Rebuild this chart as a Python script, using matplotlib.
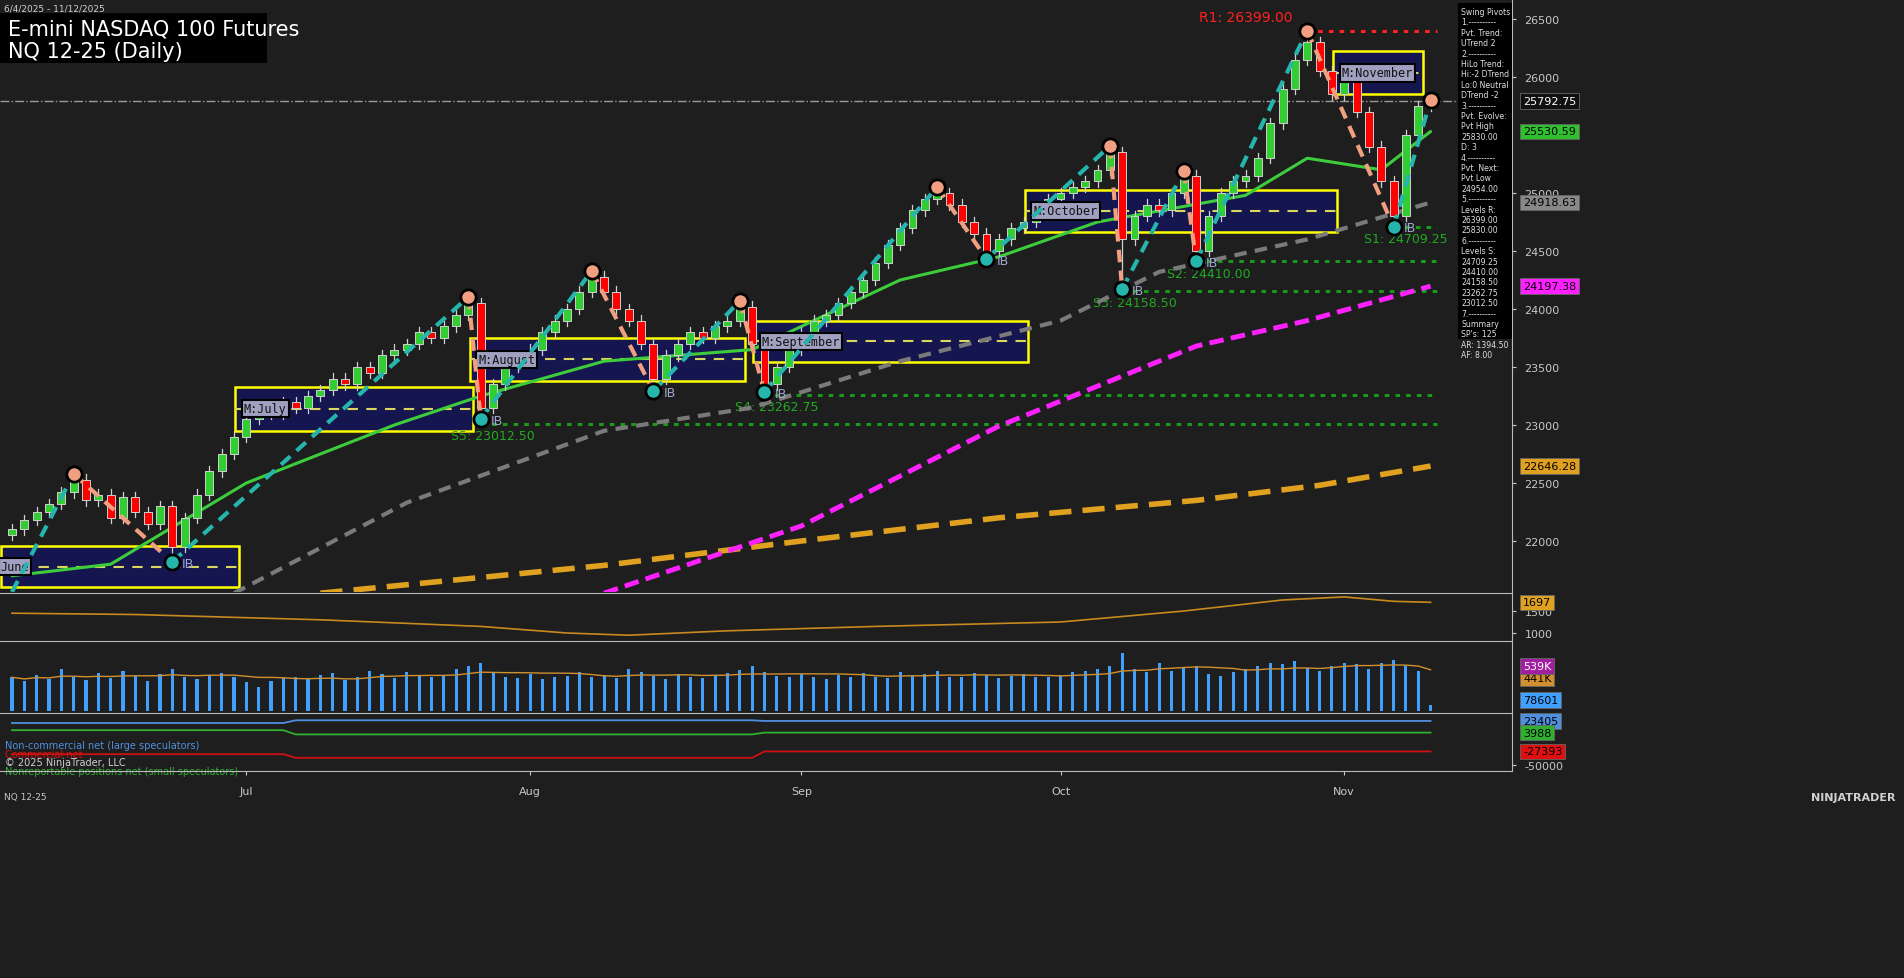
import matplotlib
matplotlib.use("Agg")
import matplotlib.pyplot as plt
from matplotlib.patches import Rectangle
import numpy as np
import pandas as pd

W, H = 1904, 979
BG = "#1e1e1e"

dates = pd.bdate_range("2025-06-04", "2025-11-12")
closes = [22100, 22180, 22250, 22320, 22420, 22530,
          22350, 22400, 22200, 22380, 22250, 22150, 22300, 21950,
          22200, 22400, 22600, 22750, 22900, 23050,
          23150, 23100, 23200, 23150, 23250, 23300, 23400, 23350, 23500, 23450,
          23600, 23650, 23700, 23800, 23750, 23850, 23950, 24050,
          23150,
          23350, 23500, 23600, 23650, 23800, 23900, 24000, 24150, 24280,
          24150, 24000, 23900, 23700, 23400,
          23600, 23700, 23800, 23750, 23850, 23900, 24020,
          23700, 23350,
          23500, 23650, 23800, 23900, 23950, 24050, 24150, 24250, 24400, 24550, 24700, 24850, 24950, 25000,
          24900, 24750, 24650, 24500,
          24600, 24700, 24750, 24850, 24950, 25000, 25050, 25100, 25200, 25350,
          24600,
          24800, 24900, 24850, 25000, 25150,
          24500,
          24800, 25000, 25100, 25150, 25300, 25600, 25900, 26150, 26300,
          26050, 25850, 26000, 25700, 25400, 25100, 24800,
          25500, 25750, 25793]
first_open = 22050
pivot_highs = {5: 22578, 37: 24104, 47: 24328, 59: 24069, 75: 25052, 89: 25405, 95: 25190, 105: 26399}
pivot_lows = {13: 21820, 38: 23052, 52: 23293, 61: 23285, 79: 24431, 90: 24172, 96: 24414, 112: 24709}

ma_green = [(0, 21700), (8, 21800), (19, 22500), (31, 23000), (38, 23250), (48, 23550), (60, 23650),
            (72, 24250), (80, 24450), (88, 24750), (100, 24980), (105, 25300), (111, 25200), (115, 25530)]
ma_gray = [(18, 21550), (32, 22330), (48, 22950), (60, 23150), (72, 23550), (85, 23900), (93, 24320),
           (105, 24600), (115, 24918)]
ma_mag = [(48, 21550), (64, 22130), (80, 22990), (96, 23680), (105, 23900), (115, 24197)]
ma_orange = [(25, 21550), (48, 21790), (64, 22000), (80, 22200), (96, 22350), (106, 22480), (115, 22646)]

levels_s = [(112, 24709.25), (96, 24410.0), (90, 24158.5), (61, 23262.75), (38, 23012.5)]
level_r = (105, 26399.0)
last_price = 25792.75
price_ticks = [22000, 22500, 23000, 23500, 24000, 24500, 25000, 26000, 26500]

months = [("June", 0, 18, 21600, 21960), ("M:July", 19, 37, 22950, 23330), ("M:August", 38, 59, 23380, 23750),
          ("M:September", 61, 82, 23540, 23900), ("M:October", 83, 107, 24660, 25030),
          ("M:November", 108, 114, 25850, 26220)]

atr_anchor = [(0, 1450), (10, 1420), (25, 1300), (38, 1150), (45, 1000), (50, 950), (58, 1050), (70, 1150),
              (85, 1250), (95, 1500), (103, 1750), (108, 1820), (112, 1720), (115, 1697)]
volume = [420, 380, 450, 400, 520, 430, 390, 470, 410, 500, 440, 380, 460, 520, 430, 400, 450, 470, 420, 360,
          300, 380, 410, 430, 400, 450, 470, 390, 420, 500, 460, 410, 480, 440, 420, 450, 520, 560, 600, 470,
          430, 410, 460, 400, 420, 440, 480, 430, 450, 410, 520, 480, 440, 400, 460, 430, 410, 450, 470, 510,
          560, 480, 440, 420, 460, 430, 400, 450, 420, 470, 430, 410, 480, 440, 460, 500, 420, 430, 470, 450,
          410, 440, 460, 420, 430, 450, 480, 500, 520, 560, 720, 520, 480, 600, 500, 540, 560, 460, 440, 480,
          520, 560, 600, 580, 620, 540, 500, 560, 600, 580, 520, 600, 640, 560, 500, 79]
cot_large = [(0, 20000), (22, 20000), (23, 24500), (60, 24500), (61, 23405), (115, 23405)]
cot_comm = [(0, -32000), (22, -32000), (23, -38000), (60, -38000), (61, -27393), (115, -27393)]
cot_small = [(0, 8000), (22, 8000), (23, 1000), (60, 1000), (61, 3988), (115, 3988)]
month_ticks = [("Jul", "2025-07-01"), ("Aug", "2025-08-01"), ("Sep", "2025-09-02"), ("Oct", "2025-10-01"), ("Nov", "2025-11-03")]

fig = plt.figure(figsize=(W / 100, H / 100), dpi=100, facecolor=BG)

def add_ax(x0, y0, x1, y1):
    a = fig.add_axes([x0 / W, 1 - y1 / H, (x1 - x0) / W, (y1 - y0) / H])
    a.set_facecolor(BG)
    for s in a.spines.values():
        s.set_visible(False)
    return a

n = len(closes)
XL = (-0.97, 121.6)
XR = 1512
ax = add_ax(0, 0, XR, 593)
ax.set_xlim(*XL)
PTOP, PBOT = 26500 + 20 * 500 / 58, 26500 - 573 * 500 / 58
ax.set_ylim(PBOT, PTOP)

def xy(anch):
    a = np.array(anch, dtype=float)
    return a[:, 0], a[:, 1]

for name, i0, i1, lo, hi in months:
    ax.add_patch(Rectangle((i0 - 0.9, lo), i1 - i0 + 1.3, hi - lo, facecolor="#15164f", edgecolor="#ffff00", lw=1.8, zorder=1))
    ax.plot([i0 - 0.9, i1 + 0.4], [(lo + hi) / 2] * 2, color="#d8d860", ls=(0, (5, 4)), lw=1.5, zorder=1.5)
    ax.text(i0 - 0.2 if i0 > 0 else -0.9, (lo + hi) / 2, name, color="#111111", fontsize=8.5, family="DejaVu Sans Mono",
            va="center", ha="left", zorder=6, bbox=dict(facecolor="#a0a0c0", edgecolor="black", lw=1.5, pad=1.5))

ax.axhline(last_price, color="#9a9a9a", ls="-.", lw=1, zorder=1)
ax.plot([level_r[0], 115.5], [level_r[1]] * 2, color="#ff2020", ls=(0, (1.5, 2)), lw=2.2, zorder=2)
ax.text(level_r[0] - 5, level_r[1] + 80, "R1: 26399.00", color="#ff2020", fontsize=10, ha="center")
snames = ["S1", "S2", "S3", "S4", "S5"]
for k, (i0, v) in enumerate(levels_s):
    ax.plot([i0, 115.5], [v, v], color="#1a9a1a", ls=(0, (1.5, 2)), lw=2.2, zorder=2)
    ax.text(i0 + 1, v - 130, f"{snames[k]}: {v:.2f}", color="#22aa22", fontsize=9, ha="center")

for anch, col, lw, ls in [(ma_orange, "#e0a020", 4, (0, (4, 2))), (ma_mag, "#ff20ff", 3.5, (0, (3, 1.5))),
                          (ma_gray, "#7a7a7a", 3, (0, (3, 2))), (ma_green, "#3ccc3c", 2.2, "-")]:
    x, y = xy(anch)
    ax.plot(x, y, color=col, lw=lw, ls=ls, zorder=3, solid_capstyle="round")

opens = [first_open] + closes[:-1]
for i in range(n):
    o, c = opens[i], closes[i]
    hi = pivot_highs.get(i, max(o, c) + 45)
    lo = pivot_lows.get(i, min(o, c) - 45)
    col = "#32cd32" if c >= o else "#ff0000"
    ax.plot([i, i], [lo, hi], color="#d0d0d0", lw=0.9, zorder=4)
    ax.add_patch(Rectangle((i - 0.32, min(o, c)), 0.64, max(abs(c - o), 8), facecolor=col, edgecolor="#d0d0d0", lw=0.7, zorder=5))

piv = sorted([(k, v, "H") for k, v in pivot_highs.items()] + [(k, v, "L") for k, v in pivot_lows.items()])
piv = [(0, 21560, "L")] + piv + [(115, 25800, "H")]
for (a, va, ta), (b, vb, tb) in zip(piv[:-1], piv[1:]):
    col = "#25b5ad" if ta == "L" else "#f0a080"
    ax.plot([a, b], [va, vb], color=col, lw=3, ls=(0, (3, 2)), zorder=6)
for k, v, t in piv[1:]:
    fc = "#f0a080" if t == "H" else "#25b5ad"
    ax.plot(k, v, "o", ms=11, mfc=fc, mec="black", mew=2, zorder=7)
    if t == "L":
        ax.text(k + 0.8, v - 10, "IB", color="#a0a8d0", fontsize=9, va="center", zorder=7)

ax.set_xticks([])
ax.yaxis.tick_right()
ax.set_yticks(price_ticks)
ax.tick_params(axis="y", colors="#c8c8c8", labelsize=8, length=3, pad=6)

def tag(a, v, txt, fc, tc="black"):
    a.annotate(txt, (1.0, v), xycoords=("axes fraction", "data"), xytext=(8, 0), textcoords="offset points",
               va="center", ha="left", fontsize=8, color=tc, annotation_clip=False,
               bbox=dict(boxstyle="square,pad=0.25", facecolor=fc, edgecolor="#666666", lw=0.6))

tag(ax, last_price, "25792.75", "#111111", "white")
tag(ax, 25530.59, "25530.59", "#2fbf2f")
tag(ax, 24918.63, "24918.63", "#888888")
tag(ax, 24197.38, "24197.38", "#ff20ff")
tag(ax, 22646.28, "22646.28", "#e0a020")

fig.text(4 / W, 1 - 9 / H, "6/4/2025 - 11/12/2025", color="#d0d0d0", fontsize=6.5, va="center")
fig.patches.append(Rectangle((0, 1 - 64 / H), 267 / W, 50 / H, transform=fig.transFigure, facecolor="black", edgecolor="none", zorder=5))
fig.text(8 / W, 1 - 29 / H, "E-mini NASDAQ 100 Futures", color="white", fontsize=15, va="center", zorder=6)
fig.text(8 / W, 1 - 52 / H, "NQ 12-25 (Daily)", color="white", fontsize=15, va="center", zorder=6)

info = ("Swing Pivots\n1.----------\nPvt. Trend:\nUTrend 2\n2.----------\nHiLo Trend:\nHi:-2 DTrend\nLo:0 Neutral\n"
        "DTrend -2\n3.----------\nPvt. Evolve:\nPvt High\n25830.00\nD: 3\n4.----------\nPvt. Next:\nPvt Low\n24954.00\n"
        "5.----------\nLevels R:\n26399.00\n25830.00\n6.----------\nLevels S:\n24709.25\n24410.00\n24158.50\n23262.75\n"
        "23012.50\n7.----------\nSummary\nSP's: 125\nAR: 1394.50\nAF: 8.00")
fig.patches.append(Rectangle((1458 / W, 1 - 340 / H), 54 / W, 336 / H, transform=fig.transFigure, facecolor="black", edgecolor="none", zorder=5))
fig.text(1461 / W, 1 - 8 / H, info, color="#e0e0e0", fontsize=5.6, va="top", linespacing=1.2, zorder=6)

a1 = add_ax(0, 595, XR, 640)
a1.set_xlim(*XL)
a1.set_ylim(864, 1886)
x, y = xy(atr_anchor)
a1.plot(x, y, color="#c88a20", lw=1.2)
a1.set_xticks([])
a1.yaxis.tick_right()
a1.set_yticks([1000, 1500])
a1.tick_params(axis="y", colors="#c8c8c8", labelsize=8, length=3, pad=6)
tag(a1, 1697, "1697", "#e0a020")

a2 = add_ax(0, 643, XR, 712)
a2.set_xlim(*XL)
a2.set_ylim(0, 860)
a2.bar(range(n), volume, width=0.25, color="#3fa0ff")
vma = pd.Series(volume).rolling(10, min_periods=1).mean()
a2.plot(range(n), vma, color="#d09030", lw=1)
a2.set_xticks([]); a2.set_yticks([])
tag(a2, 410, "441K", "#d09030")
tag(a2, 560, "539K", "#a020a0", "white")
tag(a2, 140, "78601", "#3fa0ff")

a3 = add_ax(0, 715, XR, 772)
a3.set_xlim(*XL)
a3.set_ylim(-60000, 35000)
for anch, col in [(cot_large, "#4f8fdf"), (cot_small, "#30b030"), (cot_comm, "#d01010")]:
    x, y = xy(anch)
    a3.plot(x, y, color=col, lw=1.3)
a3.yaxis.tick_right()
a3.set_yticks([-50000])
a3.set_yticklabels(["-50000"])
a3.tick_params(axis="y", colors="#c8c8c8", labelsize=8, length=3, pad=6)
tag(a3, 23405, "23405", "#4f8fdf")
tag(a3, 3988, "3988", "#30b030")
tag(a3, -27393, "-27393", "#e01010")
a3.text(0.003, 0.40, "Non-commercial net (large speculators)", transform=a3.transAxes, color="#4f8fdf", fontsize=7)
a3.text(0.003, 0.25, "Commercial net", transform=a3.transAxes, color="#e01010", fontsize=7)
a3.text(0.003, 0.10, "© 2025 NinjaTrader, LLC", transform=a3.transAxes, color="#d0d0d0", fontsize=7)
a3.text(0.003, -0.05, "Nonreportable positions net (small speculators)", transform=a3.transAxes, color="#30b030", fontsize=7)
pos = [dates.get_loc(pd.Timestamp(d)) for _, d in month_ticks]
a3.set_xticks(pos)
a3.set_xticklabels([m for m, _ in month_ticks])
a3.tick_params(axis="x", colors="#c8c8c8", labelsize=8, length=3, pad=8)

for yy in [593.5, 641.5, 713.5, 772]:
    fig.add_artist(plt.Line2D([0, XR / W], [1 - yy / H] * 2, color="#bbbbbb", lw=0.8))
fig.add_artist(plt.Line2D([XR / W, XR / W], [1 - 772 / H, 1], color="#bbbbbb", lw=0.8))

fig.text(4 / W, 1 - 798 / H, "NQ 12-25", color="#c8c8c8", fontsize=6.5, va="center")
fig.text(1896 / W, 1 - 798 / H, "NINJATRADER", color="#d0d0d0", fontsize=8, va="center", ha="right", weight="bold")

fig.savefig("out.png", dpi=100, facecolor=BG)
